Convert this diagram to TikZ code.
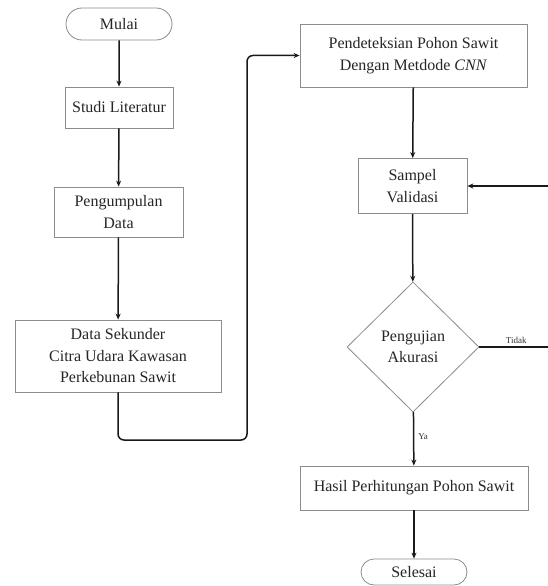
\documentclass[tikz,border=0pt]{standalone}
\usepackage{fontspec}
\setmainfont{Liberation Serif}
\usetikzlibrary{shapes.geometric,shapes.misc,arrows.meta}
\begin{document}
\begin{tikzpicture}[x=1pt,y=-1pt,
  box/.style={draw=black!45,line width=0.8pt,fill=white,align=center,inner sep=0pt,
    font=\fontsize{16}{21.5}\selectfont,text=black!85},
  term/.style={box,rounded rectangle},
  dec/.style={box,diamond,aspect=1},
  conn/.style={draw=black!90,line width=1.5pt,-{Stealth[length=6pt,width=5pt]}},
  lbl/.style={font=\fontsize{9}{10}\selectfont,text=black!80,inner sep=1pt}]
\useasboundingbox (0,0) rectangle (548,586);
\node[term,minimum width=106pt,minimum height=32pt] (mulai) at (119,24) {Mulai};
\node[box,minimum width=108pt,minimum height=41pt] (studi) at (119,107.5) {Studi Literatur};
\node[box,minimum width=129pt,minimum height=50pt] (kumpul) at (118.5,212) {Pengumpulan\\Data};
\node[box,minimum width=206pt,minimum height=72pt] (data) at (118,356) {Data Sekunder\\Citra Udara Kawasan\\Perkebunan Sawit};
\node[box,minimum width=227pt,minimum height=63pt] (pend) at (413.5,55.5) {Pendeteksian Pohon Sawit\\Dengan Metdode \textit{CNN}};
\node[box,minimum width=109pt,minimum height=55pt] (sampel) at (412.5,186) {Sampel\\Validasi};
\node[dec,minimum width=132pt,minimum height=130pt] (uji) at (413,347) {Pengujian\\Akurasi};
\node[box,minimum width=228pt,minimum height=44pt] (hasil) at (414,488) {Hasil Perhitungan Pohon Sawit};
\node[term,minimum width=106pt,minimum height=26pt] (selesai) at (414,572) {Selesai};
\coordinate (c1) at (247,440);
\coordinate (c2) at (553,347);
\draw[conn] (mulai) -- (studi);
\draw[conn] (studi) -- (kumpul);
\draw[conn] (kumpul) -- (data);
\draw[conn,rounded corners=6pt] (data.south) |- (c1) |- (pend.west);
\draw[conn] (pend) -- (sampel);
\draw[conn] (sampel) -- (uji);
\draw[conn] (uji) -- node[lbl,right,pos=0.45,xshift=3pt] {Ya} (hasil);
\draw[conn] (hasil) -- (selesai);
\draw[conn] (uji.east) -- node[lbl,above,pos=0.50,yshift=1.5pt] {Tidak} (c2) |- (sampel.east);
\end{tikzpicture}
\end{document}
